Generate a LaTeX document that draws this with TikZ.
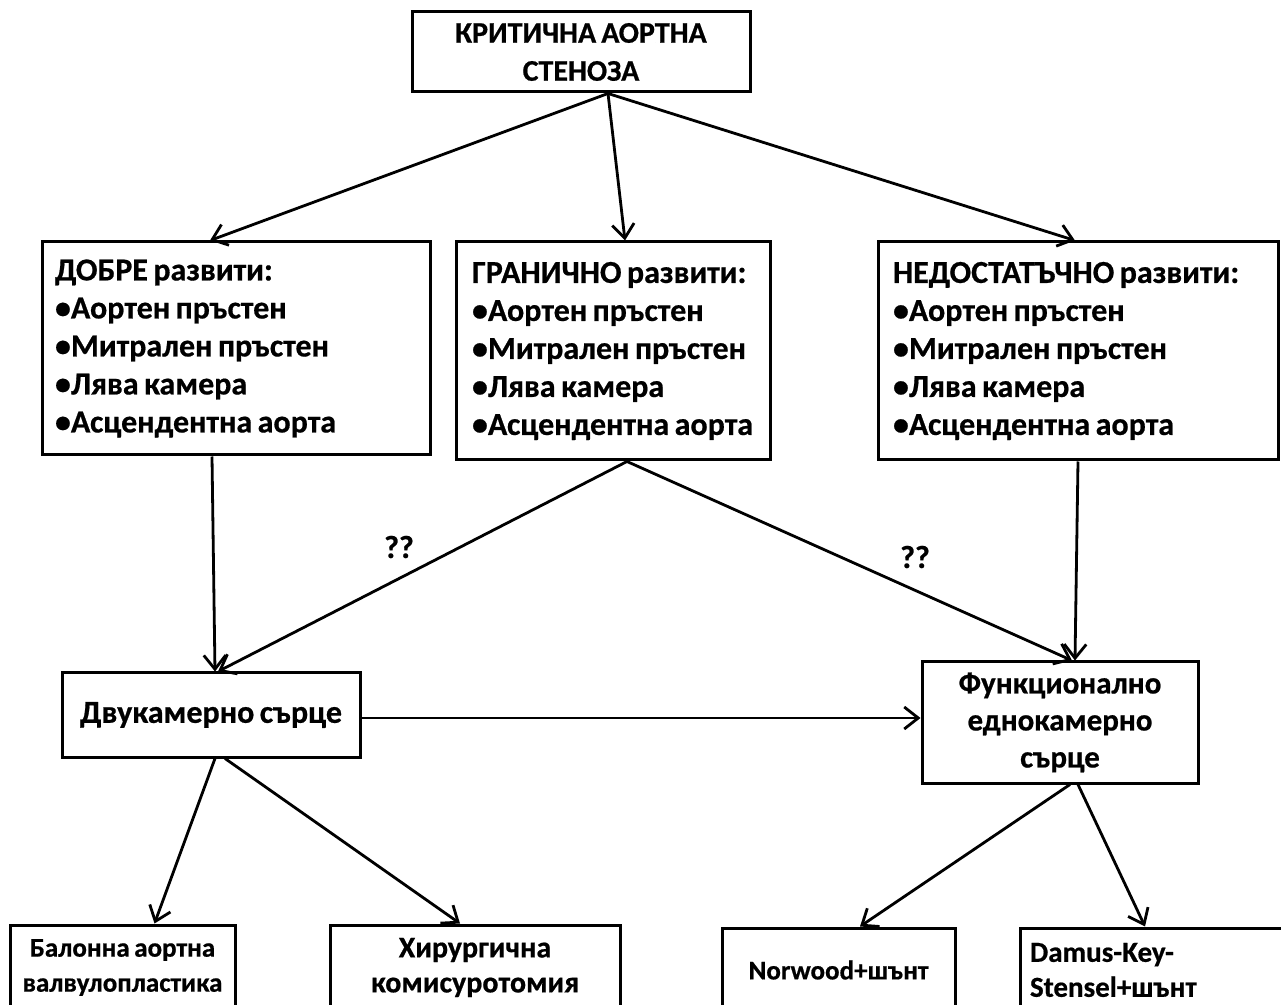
\documentclass[tikz,border=0pt]{standalone}
\usepackage{fontspec}
\setmainfont{Carlito}[WordSpace=0.75, BoldFeatures={FakeBold=0.6}]
\usetikzlibrary{arrows.meta}
\newcommand{\listlines}[2]{\makebox[#1][l]{#2}\\\makebox[#1][l]{•Аортен пръстен}\\\makebox[#1][l]{•Митрален пръстен}\\\makebox[#1][l]{•Лява камера}\\\makebox[#1][l]{•Асцендентна аорта}}
\begin{document}
\begin{tikzpicture}[x=0.5pt,y=-0.5pt,
  box/.style={draw, line width=1.5pt, inner sep=0pt, font=\bfseries\fontsize{16}{19}\selectfont},
  listbox/.style={box, align=left, minimum height=109pt},
  arr/.style={line width=1.4pt, -{Straight Barb[length=7pt,width=11pt,line width=1.4pt]}},
  lbl/.style={font=\bfseries\fontsize{16}{19}\selectfont, inner sep=0pt}
]
\useasboundingbox (0,0) rectangle (1281,1005);
\clip (0,0) rectangle (1281,1005);
\fill[white] (0,0) rectangle (1281,1005);

\node[box, minimum width=169pt, minimum height=40pt, align=center, font=\bfseries\fontsize{15}{19}\selectfont] (top) at (581,52) {КРИТИЧНА АОРТНА\\СТЕНОЗА};

\node[listbox, minimum width=194pt, minimum height=106.5pt] (L) at (236,348.5) {\listlines{181pt}{ДОБРЕ развити:}};
\node[listbox, minimum width=157pt] (M) at (613,351) {\listlines{141pt}{ГРАНИЧНО развити:}};
\node[listbox, minimum width=200pt] (R) at (1078,351) {\listlines{185pt}{НЕДОСТАТЪЧНО развити:}};

\node[box, minimum width=149pt, minimum height=42pt] (D) at (211,715) {Двукамерно сърце};
\node[box, minimum width=138pt, minimum height=60.5pt, align=center, font=\bfseries\fontsize{15.5}{18.5}\selectfont] (F) at (1060,722.5) {Функционално\\еднокамерно\\сърце};

\node[box, minimum width=112.5pt, minimum height=42.5pt, align=center, font=\bfseries\fontsize{13.5}{17.5}\selectfont] (B1) at (122.5,967.5) {Балонна аортна\\валвулопластика};
\node[box, minimum width=145pt, minimum height=42.5pt, align=center, font=\bfseries\fontsize{15}{17.5}\selectfont] (B2) at (475,967.5) {Хирургична\\комисуротомия};
\node[box, minimum width=116.5pt, minimum height=42pt, font=\bfseries\fontsize{13.5}{17.5}\selectfont] (B3) at (838.5,970) {Norwood+шънт};
\node[box, minimum width=137.5pt, minimum height=42pt, align=left, font=\bfseries\fontsize{14.5}{17.5}\selectfont] (B4) at (1157.5,970) {\makebox[127.5pt][l]{Damus-Key-}\\\makebox[127.5pt][l]{Stensel+шънт}};

\draw[arr] ([xshift=13.5pt]top.south) -- ([xshift=-13pt]L.north);
\draw[arr] ([xshift=13.5pt]top.south) -- ([xshift=6pt]M.north);
\draw[arr] ([xshift=13.5pt]top.south) -- ([xshift=-1.5pt]R.north);

\draw[arr] ([xshift=-12pt]L.south) -- ([xshift=2pt]D.north);
\draw[arr] ([xshift=7pt]M.south) -- ([xshift=3.5pt]D.north);
\draw[arr] ([xshift=7pt]M.south) -- ([xshift=6pt]F.north);
\draw[arr] (R.south) -- ([xshift=7.5pt]F.north);

\draw[arr] ([yshift=-1.5pt]D.east) -- ([yshift=-1.5pt]D.east -| F.west);

\draw[arr] ([xshift=2pt]D.south) -- ([xshift=16pt]B1.north);
\draw[arr] ([xshift=7pt]D.south) -- ([xshift=-7.5pt]B2.north);
\draw[arr] ([xshift=5pt]F.south) -- ([xshift=10.75pt]B3.north);
\draw[arr] ([xshift=9pt]F.south) -- ([xshift=-6.25pt]B4.north);

\node[lbl] (q1) at (399,547) {??};
\node[lbl] (q2) at (915,557) {??};
\end{tikzpicture}
\end{document}
